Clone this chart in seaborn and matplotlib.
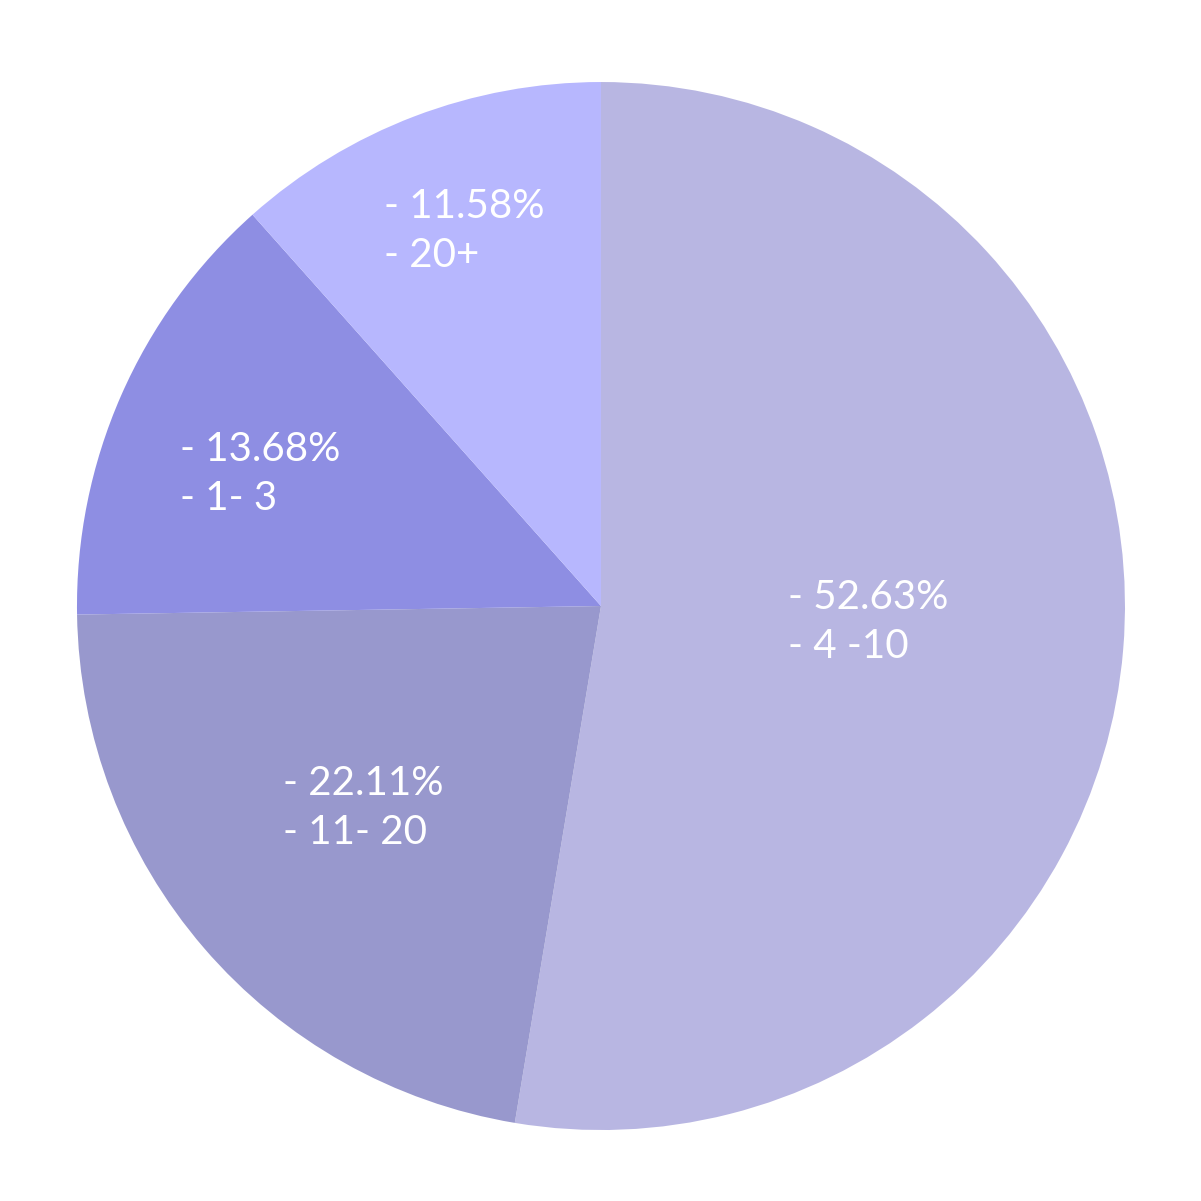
import matplotlib.pyplot as plt
import numpy as np
import seaborn as sns

sns.set_theme(style="white")
plt.rcParams['font.family'] = ['Lato', 'DejaVu Sans']

# Data
groups = ['4 -10', '11- 20', '1- 3', '20+']
shares = [52.63, 22.11, 13.68, 11.58]
colors = ['#B8B6E2', '#9898CD', '#8E8EE3', '#B7B7FE']

# label placement: fraction of radius and small angle nudge (degrees)
label_r = [0.51, 0.59, 0.70, 0.77]
label_nudge = [2.3, -0.9, 1.9, -1.0]

fig = plt.figure(figsize=(12.01, 12.01), dpi=100)
ax = fig.add_axes([0.0641, 0.0591, 0.8726, 0.8726])

wedges, _ = ax.pie(shares, colors=colors, startangle=90, counterclock=False,
                   wedgeprops=dict(linewidth=0))

for w, g, s, r, d in zip(wedges, groups, shares, label_r, label_nudge):
    mid = np.deg2rad((w.theta1 + w.theta2) / 2 + d)
    ax.text(r * np.cos(mid), r * np.sin(mid) - 0.008, f"- {s:.2f}%\n- {g}",
            ha='center', va='center', multialignment='left',
            color='white', fontsize=29, linespacing=1.4)

ax.set_xlim(-1, 1)
ax.set_ylim(-1, 1)
ax.set_aspect('equal')
ax.axis('off')

plt.savefig('out.png', dpi=100, facecolor='white')
